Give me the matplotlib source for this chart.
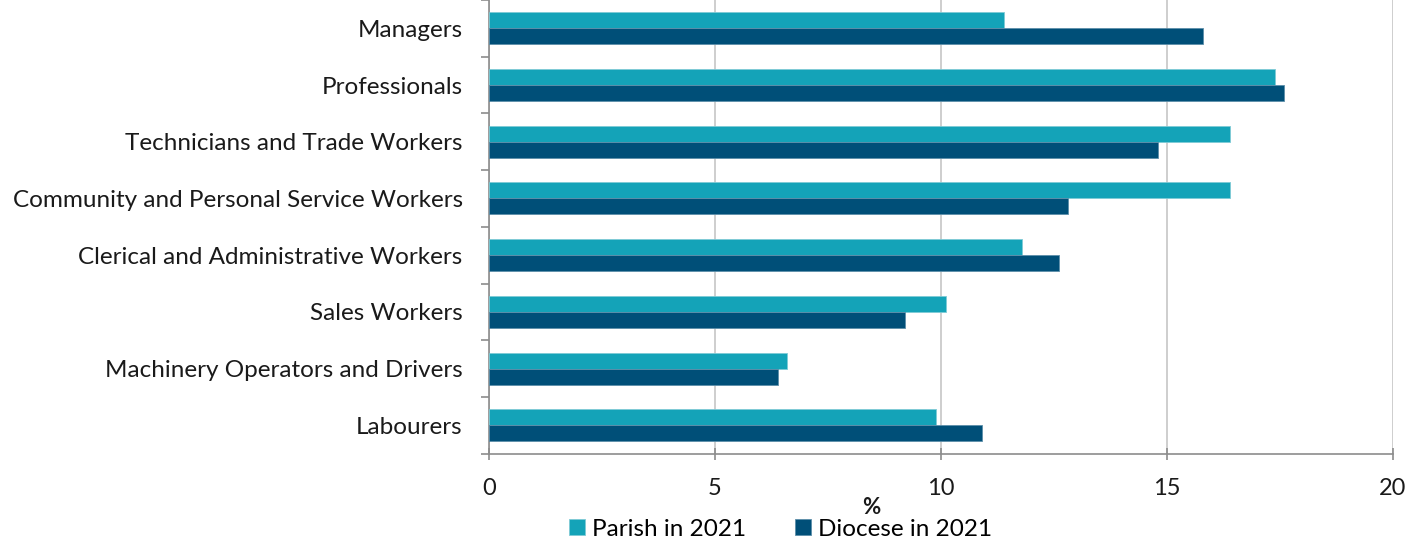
import matplotlib
matplotlib.use("Agg")
import matplotlib.pyplot as plt
import numpy as np

# --- data ---
categories = [
    "Managers",
    "Professionals",
    "Technicians and Trade Workers",
    "Community and Personal Service Workers",
    "Clerical and Administrative Workers",
    "Sales Workers",
    "Machinery Operators and Drivers",
    "Labourers",
]
parish_2021 = [11.4, 17.4, 16.4, 16.4, 11.8, 10.1, 6.6, 9.9]
diocese_2021 = [15.8, 17.6, 14.8, 12.8, 12.6, 9.2, 6.4, 10.9]
x_ticks = [0, 5, 10, 15, 20]

parish_color = "#14A3B8"
diocese_color = "#004F78"
grid_color = "#C6C6C6"
axis_color = "#8C8C8C"

plt.rcParams["font.family"] = ["Lato", "DejaVu Sans"]

fig = plt.figure(figsize=(14.25, 5.4), dpi=100)
ax = fig.add_axes([0.3432, 0.16, 0.9775 - 0.3432, 0.84])

n = len(categories)
y = np.arange(n)
bar_h = 0.283

ax.barh(y - bar_h / 2, parish_2021, height=bar_h, color=parish_color,
        edgecolor="#7FCBD6", linewidth=0.6, label="Parish in 2021", zorder=3)
ax.barh(y + bar_h / 2, diocese_2021, height=bar_h, color=diocese_color,
        edgecolor="#5D8FAA", linewidth=0.6, label="Diocese in 2021", zorder=3)

ax.set_ylim(n - 0.5, -0.5)
ax.set_xlim(0, 20)

# y axis: labels at category centres, tick marks between categories
ax.set_yticks(y)
ax.set_yticklabels(categories, fontsize=17.5, color="#1a1a1a")
ax.tick_params(axis="y", length=0, pad=19)
ax.set_yticks(np.arange(-0.5, n, 1.0), minor=True)
ax.tick_params(axis="y", which="minor", length=6, width=1.2, color=axis_color, direction="out")

ax.set_xticks(x_ticks)
ax.set_xticklabels([str(t) for t in x_ticks], fontsize=17, color="#1a1a1a")
ax.tick_params(axis="x", length=9, width=1.2, color=axis_color, direction="inout", pad=13)

ax.grid(axis="x", color=grid_color, linewidth=1.2, zorder=0)
for side in ["top", "right"]:
    ax.spines[side].set_visible(False)
for side in ["left", "bottom"]:
    ax.spines[side].set_color(axis_color)
    ax.spines[side].set_linewidth(1.2)

# axis title sits left of centre in the reference
fig.text(871 / 1425, 1 - 507 / 540, "%", fontsize=16, fontweight="bold",
         ha="center", va="center", color="#1a1a1a")

fig.legend(loc="lower center", bbox_to_anchor=(0.548, -0.04), ncol=2, frameon=False,
           fontsize=17.5, handlelength=0.65, handleheight=0.65, handletextpad=0.3,
           columnspacing=2.0)

fig.savefig("out.png", dpi=100)
